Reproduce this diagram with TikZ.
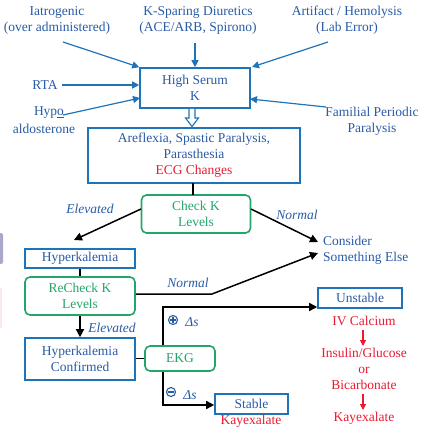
\documentclass[tikz,border=0pt]{standalone}
\usepackage{fontspec}
\setmainfont{Liberation Serif}
\usetikzlibrary{arrows.meta}
\definecolor{tblue}{RGB}{40,90,165}
\definecolor{bblue}{RGB}{30,115,185}
\definecolor{tgreen}{RGB}{35,165,105}
\definecolor{tred}{RGB}{235,25,50}
\begin{document}
\begin{tikzpicture}[x=1pt,y=-1pt,
  font=\fontsize{13.5}{16}\selectfont,
  bbox/.style={draw=bblue, line width=1.6pt, text=tblue, align=center, inner sep=0pt},
  gbox/.style={draw=tgreen, line width=1.6pt, rounded corners=5pt, text=tgreen, align=center, inner sep=0pt},
  txt/.style={text=tblue, align=center, inner sep=0pt},
  rtxt/.style={text=tred, align=center, inner sep=0pt},
  lbl/.style={text=tblue, inner sep=0pt, font=\fontsize{13.5}{16}\selectfont\itshape},
  barrow/.style={draw=bblue, line width=1.2pt, -{Triangle[length=7pt,width=7pt]}},
  karrow/.style={draw=black, line width=1.5pt, -{Triangle[length=8pt,width=8pt]}},
  kline/.style={draw=black, line width=1.5pt},
  rarrow/.style={draw=tred, line width=1.1pt, -{Triangle[length=6pt,width=6pt]}},
  sign/.style={circle, draw=tblue, line width=1.1pt, minimum size=9pt, inner sep=0pt}
]
\useasboundingbox (0,0) rectangle (426,431);
% left-edge artefacts
\fill[fill={rgb,255:red,170;green,168;blue,200}, rounded corners=2pt] (-4,233) rectangle (3,264);
\fill[fill={rgb,255:red,250;green,232;blue,238}] (-4,288) rectangle (2,328);

% sources
\node[txt] (iat) at (57,20) {Iatrogenic\\(over administered)};
\node[txt] (ksp) at (198,20) {K-Sparing Diuretics\\(ACE/ARB, Spirono)};
\node[txt] (art) at (347,20) {Artifact / Hemolysis\\(Lab Error)};
\node[txt] (rta) at (45,85) {RTA};
\node[txt] (hypo) at (49,113) {Hyp\underline{o}};
\node[txt] (aldo) at (44,129) {aldosterone};
\node[txt] (fam) at (372,121) {Familial Periodic\\Paralysis};

\node[bbox, minimum width=110pt, minimum height=40pt] (hsk) at (195,88) {High Serum\\K};

\coordinate (iatS) at (63,42);
\coordinate (kspS) at (195,43);
\coordinate (artS) at (328,42);
\coordinate (rtaS) at (62,85);
\coordinate (hypS) at (63,115);
\coordinate (famS) at (326,107);
\draw[barrow] (iatS) -- (hsk.north west);
\draw[barrow] (kspS) -- (hsk.north);
\draw[barrow] (artS) -- (252,67);
\draw[barrow] (rtaS) -- (rtaS -| hsk.west);
\draw[barrow] (hypS) -- (140,98);
\draw[barrow] (famS) -- (250,99);

\node[bbox, minimum width=212pt, minimum height=55pt] (are) at (194,155.5) {Areflexia, Spastic Paralysis,\\Parasthesia\\\textcolor{tred}{ECG Changes}};

% hollow double arrow
\draw[draw=bblue, line width=1.1pt, fill=white]
  (189,108.8) -- (189,118) -- (185.5,118) -- (192,126.5) -- (198.5,118) -- (195,118) -- (195,108.8);

\node[gbox, minimum width=109pt, minimum height=38pt] (chk) at (196,214) {Check K\\Levels};
\draw[kline] (193,183) -- (193,195);

\node[bbox, minimum width=110pt, minimum height=19pt] (hyp) at (80,258.5) {Hyperkalemia};
\node[gbox, minimum width=110pt, minimum height=38pt] (rck) at (80,296) {ReCheck K\\Levels};
\node[bbox, minimum width=110pt, minimum height=42pt] (cnf) at (80,359) {Hyperkalemia\\Confirmed};
\node[gbox, minimum width=70pt, minimum height=25pt] (ekg) at (180,358.5) {EKG};

\node[txt, align=left, anchor=west] (cons) at (323,250.5) {Consider\\Something Else};

\draw[karrow] (141,209) -- (74,240);
\node[lbl] (el1) at (90,209) {Elevated};
\draw[karrow] (251,209) -- (318,242);
\node[lbl] (no1) at (297,215) {Normal};

\draw[kline] (hyp.south) -- (rck.north);
\coordinate (bend) at (212,294);
\draw[karrow] (rck.east |- bend) -- (bend) -- (318,253);
\node[lbl] (no2) at (188,283) {Normal};

\draw[karrow] (rck.south) -- (cnf.north);
\node[lbl] (el2) at (112,328) {Elevated};

\draw[kline] (cnf.east |- ekg.west) -- (ekg.west);

\node[bbox, minimum width=84pt, minimum height=20pt] (uns) at (360,298) {Unstable};
\node[bbox, minimum width=73pt, minimum height=20pt] (stb) at (251.5,404) {Stable};
\node[rtxt] (kay1) at (251,421) {Kayexalate};

\coordinate (up) at (163,307);
\coordinate (dn) at (163,405);
\draw[karrow] (up |- ekg.north) -- (up) -- (uns.west |- up);
\draw[karrow] (dn |- ekg.south) -- (dn) -- (stb.west |- dn);

\node[sign] (plus) at (173,320) {};
\draw[tblue, line width=1.3pt] (plus.center) ++(-2.6,0) -- ++(5.2,0) (plus.center) ++(0,-2.6) -- ++(0,5.2);
\node[lbl] (ds1) at (192,322) {Δs};
\node[sign] (minus) at (171,392) {};
\draw[tblue, line width=1.3pt] (minus.center) ++(-2.6,0) -- ++(5.2,0);
\node[lbl] (ds2) at (190,395) {Δs};

\node[rtxt] (ivc) at (364,321) {IV Calcium};
\node[rtxt] (ins) at (364,369) {Insulin/Glucose\\or\\Bicarbonate};
\node[rtxt] (kay2) at (364,418) {Kayexalate};
\draw[rarrow] (363,330) -- (363,346);
\draw[rarrow] (363,394) -- (363,410);
\end{tikzpicture}
\end{document}
